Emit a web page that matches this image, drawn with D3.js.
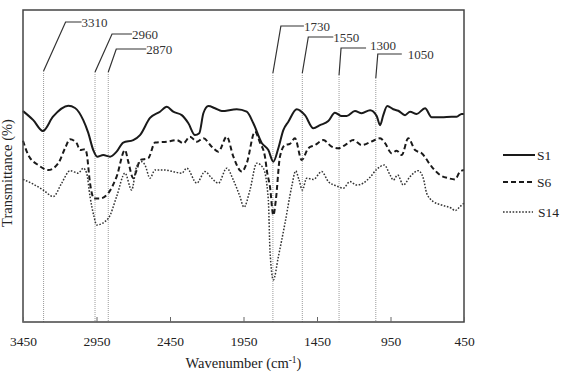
<!DOCTYPE html>
<html>
<head>
<meta charset="utf-8">
<script src="https://cdn.jsdelivr.net/npm/d3@7"></script>
<style>
  body { margin: 0; background: #fff; }
  svg { font-family: "Liberation Serif", "Times New Roman", serif; }
</style>
</head>
<body>
<div id="graph"></div>
<script>
// wavenumber (cm-1) samples for each spectrum
var s1Wave = [3450,3380,3315,3246,3142,3096,3040,3006,2972,2945,2904,2858,2813,2768,2700,2654,2586,2518,2472,2428,2370,2325,2280,2251,2223,2189,2144,2098,1996,1928,1883,1826,1781,1747,1713,1679,1645,1588,1532,1475,1430,1373,1328,1282,1248,1192,1146,1089,1044,1021,999,972,931,897,851,817,772,715,670,602,534,500,466,450]
var s1Trans = [67.6,64.7,61.2,65.8,69.3,68.6,64.7,60.6,55.1,53.0,53.5,53.0,54.6,57.5,58.3,59.9,65.4,67.4,69.0,67.4,66.3,63.7,59.9,60.5,66.9,69.2,68.5,67.6,68.2,67.4,63.7,57.4,55.1,51.4,55.7,61.5,64.2,68.2,66.3,62.1,63.1,64.4,67.1,66.0,66.0,67.6,66.9,67.9,66.0,63.1,66.3,69.2,68.2,67.7,66.3,67.4,66.7,68.5,65.6,65.6,65.8,65.8,66.7,66.7]

var s6Wave = [3450,3414,3346,3278,3210,3164,3130,3085,3062,3028,3017,2994,2967,2926,2870,2813,2756,2734,2700,2677,2654,2598,2552,2472,2404,2359,2314,2268,2223,2166,2121,2064,2019,1962,1928,1872,1838,1804,1790,1770,1747,1730,1702,1668,1634,1600,1554,1509,1464,1407,1350,1305,1259,1203,1146,1067,1021,987,942,908,874,829,783,738,670,613,557,511,477,450]
var s6Trans = [58.1,53.5,50.3,48.7,50.9,55.7,58.6,57.3,55.1,55.4,54.1,44.5,39.6,39.6,41.3,46.6,55.1,51.4,46.1,48.7,51.9,52.5,57.5,57.8,58.3,57.3,59.4,57.8,58.9,56.2,54.6,59.4,53.0,48.2,50.9,61.0,57.5,53.0,48.2,43.4,34.2,39.1,53.0,56.7,57.1,58.9,51.9,55.7,56.7,58.3,56.2,55.7,56.7,58.3,56.7,58.1,58.9,57.3,54.1,54.9,53.5,58.9,55.1,54.1,49.8,47.1,46.1,45.7,48.2,48.7]

var s14Wave = [3450,3380,3312,3244,3187,3130,3074,3040,3017,2994,2967,2949,2870,2813,2756,2711,2677,2643,2620,2586,2552,2484,2428,2370,2336,2268,2212,2166,2121,2064,2019,1974,1947,1906,1860,1815,1781,1770,1747,1713,1668,1622,1595,1572,1550,1520,1475,1418,1373,1316,1271,1226,1180,1135,1089,1044,992,953,931,901,863,817,761,727,704,659,602,534,511,477,450]
var s14Trans = [45.7,44.2,42.3,40.2,44.5,48.5,47.7,49.3,47.7,40.2,33.8,31.1,33.2,40.2,47.7,42.3,49.8,51.4,50.3,46.1,48.7,48.7,48.2,47.7,49.3,44.5,48.2,46.1,44.5,49.3,45.5,40.2,36.8,42.3,50.9,49.3,39.1,23.1,13.5,20.9,31.6,43.4,48.4,45.5,42.3,46.1,45.7,48.2,45.0,43.6,42.9,45.0,43.9,44.5,46.4,48.9,50.3,47.1,45.5,47.1,43.9,46.6,48.5,46.1,41.3,38.6,37.5,36.4,35.7,37.0,38.1]

var xTicks = [3450,2950,2450,1950,1450,950,450]
var peakLabels = ['3310','2960','2870','1730','1550','1300','1050']
var peakLines = [3310,2960,2870,1750,1550,1300,1050]
var seriesNames = ['S1','S6','S14']

// layout of the label leaders (pixels): elbow offset, elbow y, arm length, text gap
var leaderLayout = [
  {dx:22, ey:22, arm:16, gap:0, top:71},
  {dx:17, ey:34, arm:20, gap:0, top:72},
  {dx:8,  ey:49, arm:30, gap:0, top:72},
  {dx:8,  ey:26, arm:23, gap:0, top:73},
  {dx:6,  ey:37, arm:25, gap:0, top:73},
  {dx:2,  ey:48, arm:25, gap:4, top:75},
  {dx:2,  ey:54, arm:24, gap:6, top:78}
]

var W = 567, H = 376
var plot = {left:23, right:464, top:10, bottom:322}

var svg = d3.select('#graph').append('svg')
svg.attr('width', W).attr('height', H)

var xScale = d3.scaleLinear()
  .domain([3450, 450])
  .range([plot.left, plot.right])

var yScale = d3.scaleLinear()
  .domain([0, 100])
  .range([plot.bottom, plot.top])

// dotted reference lines at the labelled peaks
peakLines.forEach(function(w, i) {
  var L = leaderLayout[i]
  var x = xScale(w)
  svg.append('line')
    .attr('x1', x).attr('x2', x)
    .attr('y1', L.top).attr('y2', plot.bottom)
    .attr('stroke', '#9a9a9a')
    .attr('stroke-width', 1)
    .attr('stroke-dasharray', '1,1')
  svg.append('path')
    .attr('d', 'M' + x + ',' + L.top + 'L' + (x + L.dx) + ',' + L.ey + 'H' + (x + L.dx + L.arm))
    .attr('fill', 'none')
    .attr('stroke', '#333')
    .attr('stroke-width', 1.2)
  svg.append('text')
    .attr('x', x + L.dx + L.arm + L.gap)
    .attr('y', L.ey + (i == 5 ? -3 : 0))
    .attr('dy', '0.35em')
    .attr('font-size', 13)
    .attr('fill', '#333')
    .text(peakLabels[i])
})

var line = d3.line()
  .x(function(d) { return xScale(d[0]) })
  .y(function(d) { return yScale(d[1]) })
  .curve(d3.curveMonotoneX)

var series = [
  {wave: s1Wave, trans: s1Trans, dash: null, width: 2, color: '#1a1a1a'},
  {wave: s6Wave, trans: s6Trans, dash: '5,3', width: 2, color: '#1a1a1a'},
  {wave: s14Wave, trans: s14Trans, dash: '1.6,1.6', width: 1.5, color: '#333'}
]

series.forEach(function(s) {
  var pts = s.wave.map(function(w, i) { return [w, s.trans[i]] })
  svg.append('path')
    .datum(pts)
    .attr('d', line)
    .attr('fill', 'none')
    .attr('stroke', s.color)
    .attr('stroke-width', s.width)
    .attr('stroke-dasharray', s.dash)
})

// frame
svg.append('rect')
  .attr('x', plot.left).attr('y', plot.top)
  .attr('width', plot.right - plot.left)
  .attr('height', plot.bottom - plot.top)
  .attr('fill', 'none')
  .attr('stroke', '#444')
  .attr('stroke-width', 1.5)

var xAxis = d3.axisBottom(xScale)
  .tickValues(xTicks)
  .tickFormat(d3.format('d'))
  .tickSizeInner(-5)
  .tickSizeOuter(0)
  .tickPadding(14)

var gx = svg.append('g')
  .attr('transform', 'translate(0,' + plot.bottom + ')')
  .call(xAxis)
gx.select('.domain').remove()
gx.selectAll('line').attr('stroke', '#666')
gx.selectAll('text')
  .attr('font-size', 13.5)
  .attr('font-family', '"Liberation Serif", serif')
  .attr('fill', '#222')

// axis titles
var xt = svg.append('text')
  .attr('x', (plot.left + plot.right) / 2)
  .attr('y', 368)
  .attr('text-anchor', 'middle')
  .attr('font-size', 14.5)
  .attr('fill', '#222')
xt.append('tspan').text('Wavenumber (cm')
xt.append('tspan').attr('dy', -5).attr('font-size', 9.5).text('-1')
xt.append('tspan').attr('dy', 5).text(')')

svg.append('text')
  .attr('transform', 'translate(12,' + 173 + ') rotate(-90)')
  .attr('text-anchor', 'middle')
  .attr('font-size', 14.5)
  .attr('fill', '#222')
  .text('Transmittance (%)')

// legend
var legendY = [155, 182, 212]
seriesNames.forEach(function(name, i) {
  var s = series[i]
  svg.append('line')
    .attr('x1', 503).attr('x2', i == 2 ? 533 : 535)
    .attr('y1', legendY[i]).attr('y2', legendY[i])
    .attr('stroke', s.color)
    .attr('stroke-width', s.width)
    .attr('stroke-dasharray', s.dash)
  svg.append('text')
    .attr('x', i == 2 ? 538 : 537)
    .attr('y', legendY[i])
    .attr('dy', '0.35em')
    .attr('font-size', 13.5)
    .attr('fill', '#222')
    .text(name)
})
</script>
</body>
</html>
